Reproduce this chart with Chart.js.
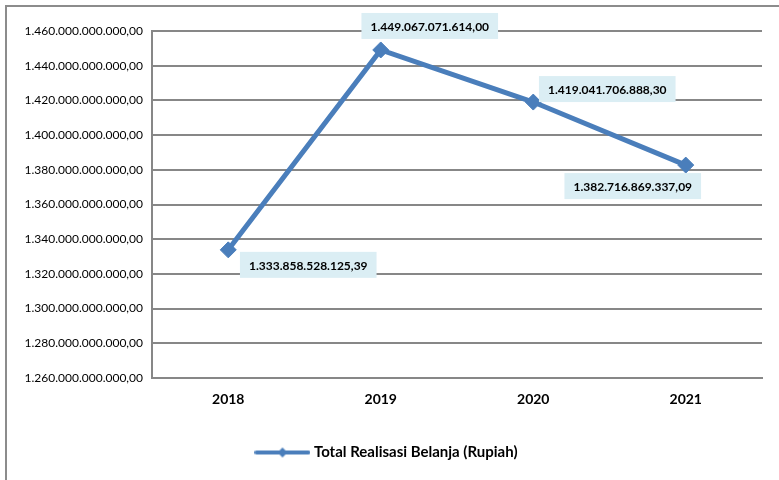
<!DOCTYPE html>
<html>
<head>
<meta charset="utf-8">
<script src="https://cdn.jsdelivr.net/npm/chart.js@4/dist/chart.umd.min.js"></script>
<style>
  html, body { margin: 0; padding: 0; background: #ffffff; }
  #wrap { position: relative; width: 779px; height: 480px; }
</style>
</head>
<body>
<div id="wrap"><canvas id="chart" width="779" height="480"></canvas></div>
<script>
// Spending totals per year (Rupiah)
const years = ['2018', '2019', '2020', '2021'];
const totalRealisasi = [1333858528125.39, 1449067071614.00, 1419041706888.30, 1382716869337.09];
const seriesName = 'Total Realisasi Belanja (Rupiah)';
const yMin = 1260000000000;
const yMax = 1460000000000;
const yStep = 20000000000;

// Indonesian number format: dots for thousands, comma for decimals
function formatRupiah(v) {
  const parts = Math.abs(v).toFixed(2).split('.');
  const intPart = parts[0].replace(/\B(?=(\d{3})+(?!\d))/g, '.');
  return (v < 0 ? '-' : '') + intPart + ',' + parts[1];
}

const BLUE = '#4a7ebb';
const GRID = '#878787';
const FONT = 'Lato, "Open Sans", sans-serif';

// Legend sample: a short thick line with a small diamond in the middle
function legendSample() {
  const c = document.createElement('canvas');
  c.width = 56; c.height = 12;
  const g = c.getContext('2d');
  g.strokeStyle = BLUE; g.lineWidth = 4; g.lineCap = 'round';
  g.beginPath(); g.moveTo(2, 6); g.lineTo(54, 6); g.stroke();
  g.fillStyle = BLUE;
  g.beginPath(); g.moveTo(28, 1); g.lineTo(33, 6); g.lineTo(28, 11); g.lineTo(23, 6); g.closePath(); g.fill();
  return c;
}

// Outer frame of the chart object
const framePlugin = {
  id: 'frame',
  beforeDraw(chart) {
    const ctx = chart.ctx;
    ctx.save();
    ctx.strokeStyle = '#8c8c8c';
    ctx.lineWidth = 2;
    ctx.strokeRect(6, 6, 900, 600);
    ctx.restore();
  }
};

// Value callouts beside each marker, offset from the point
const calloutOffsets = [[80, 15], [49, -24], [74, -13], [-53, 21]];
const calloutPlugin = {
  id: 'callouts',
  afterDatasetsDraw(chart) {
    const ctx = chart.ctx;
    const meta = chart.getDatasetMeta(0);
    ctx.save();
    ctx.font = 'bold 12px ' + FONT;
    ctx.textAlign = 'center';
    ctx.textBaseline = 'middle';
    meta.data.forEach((pt, i) => {
      const text = formatRupiah(chart.data.datasets[0].data[i]);
      const cx = pt.x + calloutOffsets[i][0];
      const cy = pt.y + calloutOffsets[i][1];
      const w = ctx.measureText(text).width + 18;
      const h = 26;
      ctx.fillStyle = '#dbeef4';
      ctx.fillRect(cx - w / 2, cy - h / 2, w, h);
      ctx.fillStyle = '#000000';
      ctx.fillText(text, cx, cy + 1);
    });
    ctx.restore();
  }
};

new Chart(document.getElementById('chart'), {
  type: 'line',
  data: {
    labels: years,
    datasets: [{
      label: seriesName,
      data: totalRealisasi,
      borderColor: BLUE,
      backgroundColor: BLUE,
      borderWidth: 5,
      pointStyle: 'rectRot',
      pointRadius: 8,
      pointHoverRadius: 8,
      pointBackgroundColor: BLUE,
      pointBorderColor: BLUE,
      pointBorderWidth: 1,
      tension: 0,
      fill: false
    }]
  },
  options: {
    responsive: false,
    animation: false,
    events: [],
    layout: { padding: { left: 14, right: 17, top: 31, bottom: 10 } },
    plugins: {
      title: { display: false },
      tooltip: { enabled: false },
      legend: {
        display: true,
        position: 'bottom',
        labels: {
          usePointStyle: true,
          pointStyleWidth: 48,
          padding: 10,
          color: '#000000',
          font: { family: FONT, size: 15, weight: 'bold' },
          generateLabels(chart) {
            return [{
              text: seriesName,
              pointStyle: legendSample(),
              fillStyle: BLUE,
              strokeStyle: BLUE,
              lineWidth: 0,
              hidden: false,
              datasetIndex: 0,
              fontColor: '#000000'
            }];
          }
        }
      }
    },
    scales: {
      x: {
        offset: true,
        grid: { display: false, drawTicks: false },
        border: { display: true, color: GRID, width: 2 },
        ticks: {
          padding: 13,
          color: '#000000',
          font: { family: FONT, size: 14, weight: 'bold' }
        },
        afterFit(scale) { scale.height = 57; }
      },
      y: {
        min: yMin,
        max: yMax,
        grid: { color: GRID, lineWidth: 2, drawTicks: false },
        border: { display: true, color: GRID, width: 2 },
        ticks: {
          stepSize: yStep,
          padding: 9,
          color: '#000000',
          font: { family: FONT, size: 12 },
          callback: (v) => formatRupiah(v)
        },
        afterFit(scale) { scale.width = 138; }
      }
    }
  },
  plugins: [framePlugin, calloutPlugin]
});
</script>
</body>
</html>
